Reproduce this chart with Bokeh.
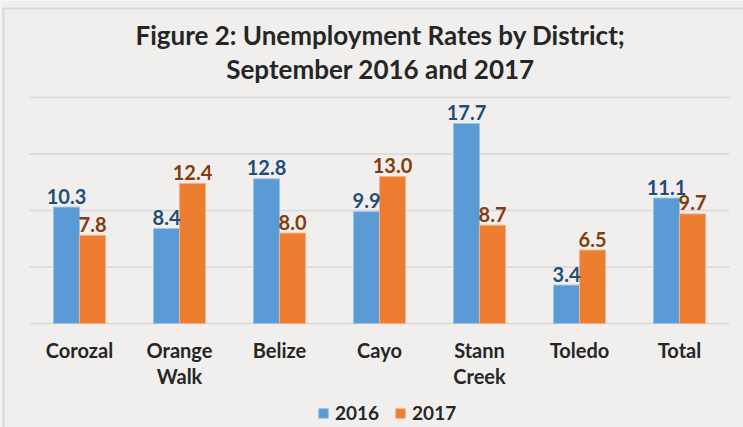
from bokeh.plotting import figure
from bokeh.models import (ColumnDataSource, Range1d, Legend, LegendItem, Label,
                          BoxAnnotation)
from bokeh.transform import dodge
from bokeh.core.properties import value
from bokeh.embed import file_html
from bokeh.resources import INLINE

districts = ["Corozal", "Orange Walk", "Belize", "Cayo", "Stann Creek", "Toledo", "Total"]
tick_labels = ["Corozal", "Orange\nWalk", "Belize", "Cayo", "Stann\nCreek", "Toledo", "Total"]
rate_2016 = [10.3, 8.4, 12.8, 9.9, 17.7, 3.4, 11.1]
rate_2017 = [7.8, 12.4, 8.0, 13.0, 8.7, 6.5, 9.7]
y_ticks = [0, 5, 10, 15, 20]
title_lines = ["Figure 2: Unemployment Rates by District;", "September 2016 and 2017"]

BG = "#F0EFED"
FONT = "Lato"
BLUE = "#5B9BD5"
ORANGE = "#ED7D31"
DARK = "#262626"

xpos = list(range(len(districts)))
src = ColumnDataSource(dict(
    x=xpos,
    label=tick_labels,
    base=[0] * len(districts),
    r16=rate_2016,
    r17=rate_2017,
    t16=["%.1f" % v for v in rate_2016],
    t17=["%.1f" % v for v in rate_2017],
))
grid_src = ColumnDataSource(dict(
    y=y_ticks,
    x0=[xpos[0] - 0.5] * len(y_ticks),
    x1=[xpos[-1] + 0.5] * len(y_ticks),
))

# frame covers the whole canvas: 100 px per category, 11.3 px per unit
p = figure(width=743, height=427, x_range=Range1d(-0.79, 6.64),
           y_range=Range1d(-9.204, 28.584), output_backend="svg", toolbar_location=None,
           x_axis_location=None, y_axis_location=None,
           min_border_left=0, min_border_right=0, min_border_top=0, min_border_bottom=0)
p.background_fill_color = BG
p.border_fill_color = BG
p.outline_line_color = None
p.title.visible = False
p.xgrid.visible = False
p.ygrid.visible = False

p.segment(x0="x0", x1="x1", y0="y", y1="y", source=grid_src,
          line_color="#D9D9D9", line_width=1.5)

b16 = p.vbar(x=dodge("x", -0.13), top="r16", width=0.26,
             source=src, fill_color=BLUE, line_color="#9DC3E6", line_width=1)
b17 = p.vbar(x=dodge("x", 0.13), top="r17", width=0.26,
             source=src, fill_color=ORANGE, line_color="#F4B183", line_width=1)

p.text(x=dodge("x", -0.13), y="r16", text="t16", source=src,
       text_align="center", text_baseline="alphabetic", y_offset=-11,
       text_font=value(FONT), text_font_style="bold", text_font_size="20px",
       text_color="#1F4E79")
p.text(x=dodge("x", 0.13), y="r17", text="t17", source=src,
       text_align="center", text_baseline="alphabetic", y_offset=-11,
       text_font=value(FONT), text_font_style="bold", text_font_size="20px",
       text_color="#843C0C")

# category labels below the baseline
p.text(x="x", y="base", text="label", source=src,
       text_align="center", text_baseline="top", y_offset=15,
       text_line_height=1.08,
       text_font=value(FONT), text_font_style="bold", text_font_size="20px",
       text_color=DARK)

legend = Legend(items=[LegendItem(label="2016", renderers=[b16]),
                       LegendItem(label="2017", renderers=[b17])],
                orientation="horizontal", location=(317, 3))
legend.background_fill_alpha = 0
legend.border_line_color = None
legend.glyph_width = 12
legend.glyph_height = 12
legend.label_text_font = FONT
legend.label_text_font_style = "bold"
legend.label_text_font_size = "19px"
legend.label_text_color = DARK
legend.spacing = 15
legend.label_standoff = 6
legend.padding = 0
legend.margin = 0
p.add_layout(legend, "center")

for line, sy in zip(title_lines, [393, 359]):
    p.add_layout(Label(x=380, y=sy, x_units="screen", y_units="screen", text=line,
                       text_align="center", text_baseline="alphabetic", text_font=FONT,
                       text_font_style="bold", text_font_size="26px", text_color=DARK))

p.add_layout(BoxAnnotation(left=3, right=800, top=419, bottom=-20,
                           left_units="screen", right_units="screen",
                           top_units="screen", bottom_units="screen",
                           fill_alpha=0, line_color="#A6A6A6", line_width=2))

open("out.html", "w").write(file_html(p, INLINE))
